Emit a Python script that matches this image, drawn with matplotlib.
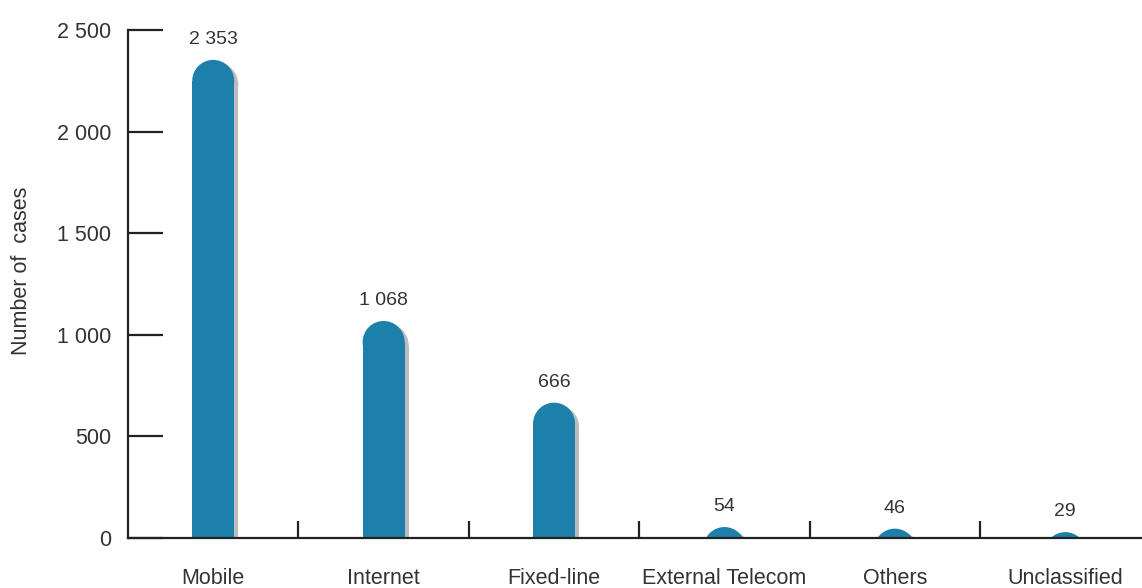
"""Reported cases by service category, drawn as rounded bars."""

import matplotlib
matplotlib.use("Agg")
import matplotlib.pyplot as plt
from matplotlib.patches import Ellipse, Rectangle
from matplotlib.transforms import offset_copy

categories = ["Mobile", "Internet", "Fixed-line", "External Telecom", "Others", "Unclassified"]
cases = [2353, 1068, 666, 54, 46, 29]
value_labels = ["2 353", "1 068", "666", "54", "46", "29"]
y_ticks = [0, 500, 1000, 1500, 2000, 2500]
y_tick_labels = ["0", "500", "1 000", "1 500", "2 000", "2 500"]

BAR_COLOR = "#1d80ab"
SHADOW_COLOR = "#bdbdc1"
TEXT_COLOR = "#333333"
AXIS_COLOR = "#222222"

plt.rcParams["font.family"] = ["Liberation Sans", "DejaVu Sans"]

W, H, DPI = 1142, 588, 100
fig = plt.figure(figsize=(W / DPI, H / DPI), dpi=DPI)
ax_left, ax_bottom, ax_width, ax_height = 128, 50, 1014, 508
ax = fig.add_axes([ax_left / W, ax_bottom / H, ax_width / W, ax_height / H])

x_min, x_max = -0.5, 5.45
y_min, y_max = 0, 2500
ax.set_xlim(x_min, x_max)
ax.set_ylim(y_min, y_max)

# pixel -> data scale, so the caps come out as true semicircles
px_x = ax_width / (x_max - x_min)
px_y = ax_height / (y_max - y_min)
half_w_px = 21
rx = half_w_px / px_x
ry = half_w_px / px_y

shadow_tr = offset_copy(ax.transData, fig=fig, x=4, y=-3, units="dots")


def rounded_bar(x, value, color, transform, zorder):
    body = max(value - ry, 0)
    if body > 0:
        ax.add_patch(Rectangle((x - rx, 0), 2 * rx, body, facecolor=color,
                               edgecolor="none", transform=transform, zorder=zorder))
    ax.add_patch(Ellipse((x, value - ry), 2 * rx, 2 * ry, facecolor=color,
                         edgecolor="none", transform=transform, zorder=zorder))


for i, v in enumerate(cases):
    rounded_bar(i, v, SHADOW_COLOR, shadow_tr, 1)
    rounded_bar(i, v, BAR_COLOR, ax.transData, 2)
    ax.text(i, v + 12 / px_y, value_labels[i], ha="center", va="bottom",
            fontsize=14, color=TEXT_COLOR)

# spines: left and bottom only
for side in ("top", "right"):
    ax.spines[side].set_visible(False)
for side in ("left", "bottom"):
    ax.spines[side].set_color(AXIS_COLOR)
    ax.spines[side].set_linewidth(1.6)
    ax.spines[side].set_zorder(3)

ax.set_yticks(y_ticks)
ax.set_yticklabels(y_tick_labels)
ax.tick_params(axis="y", direction="in", length=25, width=1.6, color=AXIS_COLOR,
               labelsize=15.5, labelcolor=TEXT_COLOR, pad=12)

# category separators along the base line
ax.set_xticks([i + 0.5 for i in range(len(categories) - 1)])
ax.set_xticklabels([])
ax.tick_params(axis="x", direction="in", length=12, width=1.6, color=AXIS_COLOR)
for i, name in enumerate(categories):
    ax.text(i, -30 / px_y, name, ha="center", va="top", fontsize=15.5,
            color=TEXT_COLOR, clip_on=False)

fig.text(22 / W, 1 - 271 / H, "Number of  cases", rotation=90, ha="center",
         va="center", fontsize=15.5, color=TEXT_COLOR)

fig.savefig("out.png", dpi=DPI)
